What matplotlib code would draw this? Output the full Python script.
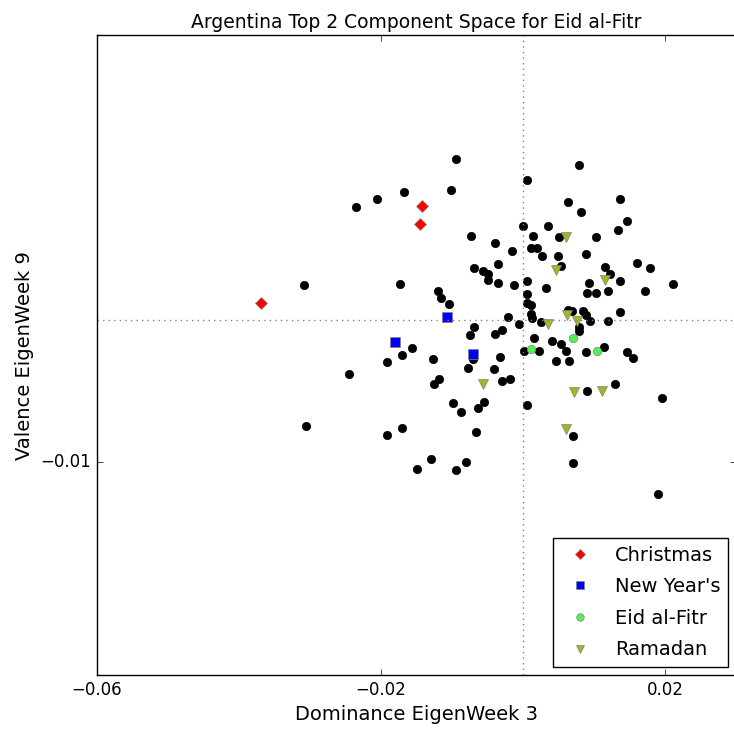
import matplotlib
matplotlib.use("Agg")
import matplotlib.pyplot as plt

plt.style.use("classic")
plt.rcParams["figure.facecolor"] = "white"
plt.rcParams["savefig.facecolor"] = "white"

# all days (black)
other_x = [-0.0094, -0.0168, -0.0101, -0.0205, -0.0235, -0.0074, -0.0069, -0.0309, -0.0173, -0.0120,
           -0.0115, -0.0104, -0.0069, -0.0075, 0.0079, 0.0005, 0.0063, 0.0136, 0.0081, 0.0146,
           0.0134, 0.0000, 0.0035, 0.0014, 0.0051, 0.0102, -0.0039, -0.0016, 0.0011, 0.0020,
           0.0026, 0.0088, 0.0049, 0.0054, -0.0035, -0.0057, -0.0050, -0.0050, -0.0035, -0.0013,
           0.0116, 0.0160, 0.0178, 0.0211, 0.0122, 0.0136, 0.0093, 0.0005, 0.0032, 0.0120,
           0.0090, 0.0102, 0.0172, 0.0005, 0.0005, 0.0011, 0.0011, 0.0013, 0.0063, 0.0069,
           0.0084, 0.0088, 0.0094, 0.0136, 0.0119, 0.0079, 0.0079, 0.0025, -0.0021, -0.0006,
           -0.0030, -0.0039, 0.0016, -0.0157, -0.0170, -0.0191, -0.0245, -0.0127, -0.0071, -0.0078,
           -0.0032, -0.0041, -0.0030, -0.0019, -0.0119, -0.0125, -0.0099, -0.0087, -0.0055, -0.0064,
           0.0005, -0.0305, -0.0170, -0.0191, -0.0066, -0.0129, -0.0150, -0.0081, -0.0094, 0.0040,
           0.0054, 0.0061, 0.0001, 0.0022, 0.0088, 0.0114, 0.0146, 0.0155, 0.0047, 0.0065,
           0.0130, 0.0090, 0.0196, 0.0070, 0.0070, 0.0190]
other_y = [0.0113, 0.0090, 0.0091, 0.0085, 0.0079, 0.0059, 0.0036, 0.0024, 0.0025, 0.0020,
           0.0015, 0.0011, -0.0005, -0.0011, 0.0109, 0.0098, 0.0083, 0.0085, 0.0076, 0.0069,
           0.0063, 0.0066, 0.0066, 0.0059, 0.0058, 0.0058, 0.0054, 0.0048, 0.0050, 0.0050,
           0.0045, 0.0046, 0.0045, 0.0038, 0.0039, 0.0034, 0.0032, 0.0028, 0.0026, 0.0024,
           0.0037, 0.0040, 0.0036, 0.0025, 0.0032, 0.0027, 0.0026, 0.0027, 0.0022, 0.0020,
           0.0019, 0.0019, 0.0020, 0.0018, 0.0012, 0.0010, 0.0004, 0.0001, 0.0007, 0.0006,
           0.0006, 0.0003, -0.0001, 0.0005, -0.0001, -0.0005, -0.0008, -0.0002, 0.0002, -0.0003,
           -0.0007, -0.0010, -0.0013, -0.0020, -0.0025, -0.0030, -0.0038, -0.0028, -0.0028, -0.0034,
           -0.0026, -0.0035, -0.0043, -0.0042, -0.0042, -0.0045, -0.0059, -0.0065, -0.0058, -0.0062,
           -0.0060, -0.0075, -0.0076, -0.0081, -0.0079, -0.0098, -0.0105, -0.0100, -0.0106, -0.0015,
           -0.0017, -0.0022, -0.0022, -0.0022, -0.0023, -0.0019, -0.0023, -0.0027, -0.0029, -0.0029,
           -0.0045, -0.0050, -0.0055, -0.0082, -0.0101, -0.0123]

christmas_x = [-0.0143, -0.0145, -0.0369]
christmas_y = [0.0080, 0.0067, 0.0012]

newyear_x = [-0.0107, -0.0181, -0.0070]
newyear_y = [0.0002, -0.0016, -0.0024]

eid_x = [0.0011, 0.0070, 0.0104]
eid_y = [-0.0021, -0.0013, -0.0022]

ramadan_x = [0.0061, 0.0046, 0.0115, 0.0062, 0.0076, 0.0035, -0.0056, 0.0072, 0.0111, 0.0061]
ramadan_y = [0.0058, 0.0035, 0.0028, 0.0003, -0.0001, -0.0003, -0.0045, -0.0051, -0.0050, -0.0077]

fig = plt.figure(figsize=(7.34, 7.34), dpi=100)
ax = fig.add_axes([0.132, 0.0804, 0.871, 0.8716])

ax.plot(other_x, other_y, "o", color="black", markersize=6, linestyle="none")
ax.plot(christmas_x, christmas_y, "D", color="red", mec="gray", markersize=6,
        linestyle="none", label="Christmas")
ax.plot(newyear_x, newyear_y, "s", color="blue", mec="gray", markersize=7,
        linestyle="none", label="New Year's")
ax.plot(eid_x, eid_y, "o", color="#55ee55", mec="gray", markersize=6,
        linestyle="none", label="Eid al-Fitr")
ax.plot(ramadan_x, ramadan_y, "v", color="#99bb22", mec="gray", markersize=7,
        linestyle="none", label="Ramadan")

ax.axvline(0, color="gray", linestyle=":")
ax.axhline(0, color="gray", linestyle=":")

ax.set_xlim(-0.06, 0.03)
ax.set_ylim(-0.025, 0.02)
ax.set_xticks([-0.06, -0.02, 0.02])
ax.set_yticks([-0.01])
ax.set_xticklabels(["\u22120.06", "\u22120.02", "0.02"])
ax.set_yticklabels(["\u22120.01"])
ax.tick_params(labelsize=12)

ax.set_title("Argentina Top 2 Component Space for Eid al-Fitr", fontsize=13.5)
ax.set_xlabel("Dominance EigenWeek 3", fontsize=14)
ax.set_ylabel("Valence EigenWeek 9", fontsize=14)

leg = ax.legend(loc="lower right", numpoints=1, fontsize=14, borderaxespad=0.4,
                markerscale=0.9, labelspacing=0.65)

fig.savefig("out.png", dpi=100)
